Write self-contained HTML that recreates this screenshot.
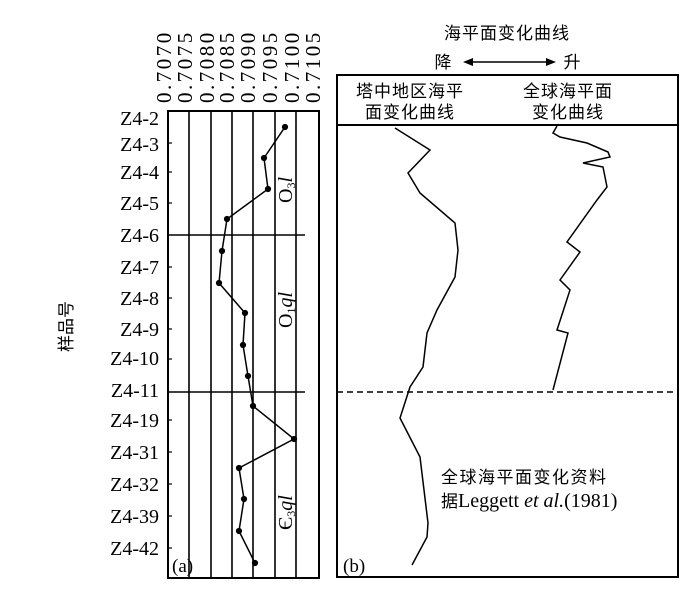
<!DOCTYPE html>
<html><head><meta charset="utf-8"><style>
html,body{margin:0;padding:0;background:#fff;}
svg{display:block;}
.s{font-family:"Liberation Serif","Noto Serif CJK SC",serif;}
.c{font-family:"Liberation Sans","Noto Sans CJK SC",sans-serif;}
</style></head><body>
<svg width="700" height="590" viewBox="0 0 700 590" xmlns="http://www.w3.org/2000/svg">
<g class="s" font-size="20" fill="#000">
<g letter-spacing="2.5" font-size="21">
<text transform="translate(171,103) rotate(-90)">0.7070</text>
<text transform="translate(192,103) rotate(-90)">0.7075</text>
<text transform="translate(214,103) rotate(-90)">0.7080</text>
<text transform="translate(234,103) rotate(-90)">0.7085</text>
<text transform="translate(255,103) rotate(-90)">0.7090</text>
<text transform="translate(277,103) rotate(-90)">0.7095</text>
<text transform="translate(299,103) rotate(-90)">0.7100</text>
<text transform="translate(320,103) rotate(-90)">0.7105</text>
</g>
<g text-anchor="end" font-size="20">
<text x="159" y="125">Z4-2</text>
<text x="159" y="151">Z4-3</text>
<text x="159" y="179">Z4-4</text>
<text x="159" y="210">Z4-5</text>
<text x="159" y="242">Z4-6</text>
<text x="159" y="274">Z4-7</text>
<text x="159" y="305">Z4-8</text>
<text x="159" y="336">Z4-9</text>
<text x="159" y="365">Z4-10</text>
<text x="159" y="397">Z4-11</text>
<text x="159" y="427">Z4-19</text>
<text x="159" y="459">Z4-31</text>
<text x="159" y="491">Z4-32</text>
<text x="159" y="523">Z4-39</text>
<text x="159" y="555">Z4-42</text>
</g>
<text transform="translate(72,352) rotate(-90)" font-size="17" font-family="'Noto Sans CJK SC',sans-serif">样品号</text>
<text transform="translate(292,203) rotate(-90)" font-size="20">O<tspan font-size="12" dy="3">3</tspan><tspan dy="-3" font-style="italic">l</tspan></text>
<text transform="translate(292,328) rotate(-90)" font-size="20">O<tspan font-size="12" dy="3">1</tspan><tspan dy="-3" font-style="italic">ql</tspan></text>
<text transform="translate(292,530) rotate(-90)" font-size="20">Є<tspan font-size="12" dy="3">3</tspan><tspan dy="-3" font-style="italic">ql</tspan></text>
<text x="172" y="572" font-size="19">(a)</text>
<text x="343" y="572" font-size="19">(b)</text>
</g>
<g stroke="#000" fill="none">
<rect x="168" y="111" width="151" height="467" stroke-width="2"/>
<g stroke-width="1.6">
<line x1="189" y1="111" x2="189" y2="578"/><line x1="211" y1="111" x2="211" y2="578"/>
<line x1="232" y1="111" x2="232" y2="578"/><line x1="253" y1="111" x2="253" y2="578"/>
<line x1="275" y1="111" x2="275" y2="578"/><line x1="296" y1="111" x2="296" y2="578"/>
<line x1="168" y1="235" x2="305" y2="235"/><line x1="168" y1="392" x2="305" y2="392"/>
</g>
<g stroke-width="1.2">
<line x1="168" y1="143" x2="172" y2="143"/><line x1="168" y1="172" x2="172" y2="172"/><line x1="168" y1="203" x2="172" y2="203"/>
<line x1="168" y1="267" x2="172" y2="267"/><line x1="168" y1="298" x2="172" y2="298"/><line x1="168" y1="329" x2="172" y2="329"/>
<line x1="168" y1="359" x2="172" y2="359"/><line x1="168" y1="420" x2="172" y2="420"/><line x1="168" y1="452" x2="172" y2="452"/>
<line x1="168" y1="484" x2="172" y2="484"/><line x1="168" y1="516" x2="172" y2="516"/><line x1="168" y1="548" x2="172" y2="548"/>
</g>
<polyline stroke-width="1.5" points="285,127 264,158 268,189 227,219 222,251 219,283 245,313 243,345 248,376 253,406 294,439 239,468 244,499 239,531 255,563"/>
<rect x="337" y="75" width="341" height="502" stroke-width="2"/>
<line x1="337" y1="125" x2="678" y2="125" stroke-width="2"/>
<line x1="337" y1="392" x2="678" y2="392" stroke-width="1.5" stroke-dasharray="6,4"/>
<polyline stroke-width="1.5" points="395,128 430,150 408,173 420,193 455,223 458,250 455,277 437,310 427,333 423,367 410,387 400,418 420,457 428,523 427,537 412,565"/>
<polyline stroke-width="1.5" points="557,126 553,133 560,137 587,143 608,152 610,157 583,163 603,167 607,187 597,200 567,242 580,252 560,280 570,290 557,330 568,333 553,390"/>
<line x1="468" y1="62" x2="550" y2="62" stroke-width="1.5"/>
</g>
<g fill="#000">
<polygon points="463,62 473,58 473,66"/><polygon points="556,62 546,58 546,66"/>
<g stroke="#000" stroke-width="1">
<circle cx="285" cy="127" r="2.6"/><circle cx="264" cy="158" r="2.6"/><circle cx="268" cy="189" r="2.6"/><circle cx="227" cy="219" r="2.6"/><circle cx="222" cy="251" r="2.6"/><circle cx="219" cy="283" r="2.6"/><circle cx="245" cy="313" r="2.6"/><circle cx="243" cy="345" r="2.6"/><circle cx="248" cy="376" r="2.6"/><circle cx="253" cy="406" r="2.6"/><circle cx="294" cy="439" r="2.6"/><circle cx="239" cy="468" r="2.6"/><circle cx="244" cy="499" r="2.6"/><circle cx="239" cy="531" r="2.6"/><circle cx="255" cy="563" r="2.6"/>
</g>
</g>
<g class="c" font-size="17" fill="#000" text-anchor="middle" font-family="'Noto Sans CJK SC',sans-serif">
<text x="507" y="39" letter-spacing="1">海平面变化曲线</text>
<text x="443" y="68">降</text><text x="572" y="68">升</text>
<text x="410" y="97" letter-spacing="1">塔中地区海平</text>
<text x="410" y="118" letter-spacing="1">面变化曲线</text>
<text x="568" y="97" letter-spacing="1">全球海平面</text>
<text x="568" y="118" letter-spacing="1">变化曲线</text>
<text x="441" y="483" text-anchor="start" letter-spacing="1.5">全球海平面变化资料</text>
</g>
<text x="441" y="507" font-size="20" class="s" fill="#000"><tspan font-family="'Noto Sans CJK SC',sans-serif" font-size="17">据</tspan>Leggett <tspan font-style="italic">et al.</tspan>(1981)</text>
</svg>
</body></html>
